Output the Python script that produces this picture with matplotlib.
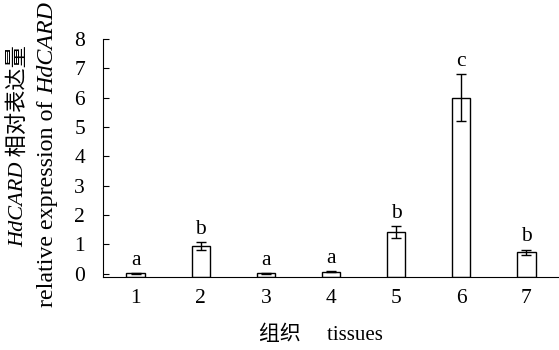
import matplotlib
matplotlib.use("Agg")
import matplotlib.pyplot as plt

plt.rcParams['font.family'] = ['Liberation Serif', 'Noto Sans CJK SC']
plt.rcParams['axes.linewidth'] = 0.8

tissues = ['1', '2', '3', '4', '5', '6', '7']
expr = [0.01, 0.95, 0.01, 0.07, 1.43, 6.0, 0.73]
err = [0.005, 0.13, 0.005, 0.01, 0.2, 0.8, 0.09]
letters = ['a', 'b', 'a', 'a', 'b', 'c', 'b']

BASE = -0.1  # x axis sits a little below zero

fig = plt.figure(figsize=(5.59, 3.5), dpi=100)
ax = fig.add_axes([103 / 559, 73.3 / 350, 456 / 559, 237.7 / 350])

x = list(range(1, len(tissues) + 1))
heights = [v - BASE for v in expr]
ax.bar(x, heights, width=0.28, bottom=BASE, color='white', edgecolor='black', linewidth=1.0)
ax.errorbar(x, expr, yerr=err, fmt='none', ecolor='black', elinewidth=1.0, capsize=3.5, capthick=1.0)

for xi, v, e, s in zip(x, expr, err, letters):
    ax.text(xi, v + e + 0.28, s, ha='center', va='baseline', fontsize=15.5)

ax.set_xlim(0.5, 7.5)
ax.set_ylim(BASE, 8)
ax.set_yticks(range(0, 9))
ax.set_xticks(x)
ax.set_xticklabels(tissues)
ax.spines['top'].set_visible(False)
ax.spines['right'].set_visible(False)
ax.tick_params(axis='y', direction='in', length=4.5, width=0.8, pad=13, labelsize=15.5)
ax.tick_params(axis='x', length=0, pad=9, labelsize=15.5)

# x label
fig.text(321 / 559, 1 - 335 / 350, '组织     tissues', ha='center', va='center', fontsize=15)

# y label, two lines, pieces chained upward
t1 = ax.annotate('HdCARD', xy=(19 / 559, 1 - 247 / 350), xycoords='figure fraction',
                 rotation=90, ha='center', va='bottom', fontsize=16, style='italic',
                 annotation_clip=False)
ax.annotate(' 相对表达量', xy=(0.5, 1), xycoords=t1, rotation=90, ha='center', va='bottom',
            fontsize=16, annotation_clip=False)
t3 = ax.annotate('relative expression of ', xy=(48 / 559, 1 - 307 / 350), xycoords='figure fraction',
                 rotation=90, ha='center', va='bottom', fontsize=17.3, annotation_clip=False)
ax.annotate('HdCARD', xy=(0.5, 1), xycoords=t3, rotation=90, ha='center', va='bottom',
            fontsize=17.3, style='italic', annotation_clip=False)

fig.savefig('out.png', dpi=100)
